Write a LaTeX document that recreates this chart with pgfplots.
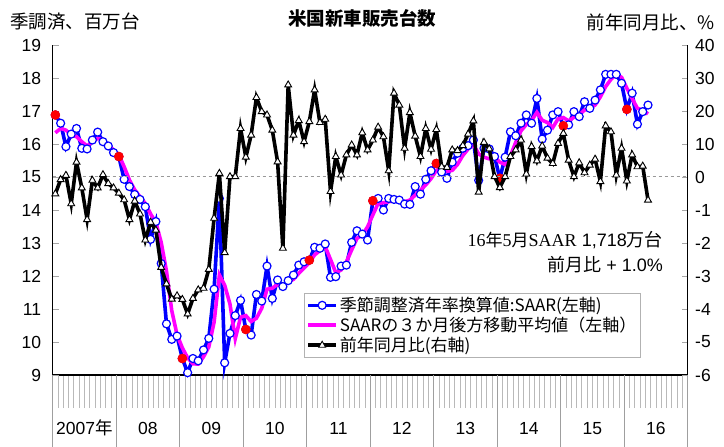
\documentclass[border=0pt]{standalone}
\usepackage{pgfplots}
\usepackage{pgfplotstable}
\pgfplotsset{compat=1.18}
\usepackage{fontspec}
\setmainfont{Liberation Sans}
\newfontfamily\jp{Noto Sans CJK JP}
\newfontfamily\serif{Liberation Serif}
\definecolor{myblue}{RGB}{0,0,255}
\definecolor{mymag}{RGB}{255,0,255}
\definecolor{myred}{RGB}{255,0,0}

\pgfplotstableread{
x saar ma yoy
0.5 16.88 16.34 -5.1
1.5 16.63 16.47 -0.8
2.5 15.92 16.42 0.5
3.5 16.30 16.27 -8.1
4.5 16.47 16.22 4.5
5.5 15.87 16.07 -3.3
6.5 15.85 15.94 -12.9
7.5 16.12 16.07 -1.0
8.5 16.36 16.17 -3.3
9.5 16.07 16.12 0.7
10.5 15.94 15.97 -2.0
11.5 15.74 15.82 -3.3
12.5 15.62 15.67 -4.9
13.5 14.93 15.31 -6.9
14.5 14.71 14.91 -12.9
15.5 14.47 14.61 -7.3
16.5 14.32 14.40 -11.2
17.5 14.10 14.20 -19.1
18.5 13.11 13.88 -13.7
19.5 13.65 13.62 -16.1
20.5 12.38 13.02 -27.4
21.5 10.55 12.15 -32.4
22.5 10.08 10.95 -37.0
23.5 10.18 10.22 -36.0
24.5 9.50 9.82 -37.1
25.5 9.07 9.52 -41.5
26.5 9.50 9.34 -36.8
27.5 9.43 9.33 -34.2
28.5 9.76 9.55 -33.7
29.5 10.11 9.85 -28.0
30.5 11.60 10.60 -12.5
31.5 14.35 12.03 1.1
32.5 9.37 11.72 -22.9
33.5 10.26 11.15 0.1
34.5 10.80 10.10 0.1
35.5 11.26 10.75 14.7
36.5 10.38 10.80 6.0
37.5 10.21 10.62 12.7
38.5 11.44 10.72 24.1
39.5 11.24 11.02 19.8
40.5 12.30 11.60 18.8
41.5 11.32 11.63 14.2
42.5 11.88 11.75 4.6
43.5 11.68 11.66 -21.6
44.5 11.86 11.82 27.9
45.5 12.03 11.90 12.7
46.5 12.33 12.08 17.1
47.5 12.43 12.24 10.7
48.5 12.48 12.40 16.8
49.5 12.87 12.64 26.4
50.5 12.84 12.77 16.5
51.5 12.97 12.89 17.5
52.5 11.96 12.50 -4.4
53.5 11.98 12.10 6.2
54.5 12.30 12.18 0.6
55.5 12.33 12.43 6.7
56.5 13.02 12.79 9.7
57.5 13.37 13.14 6.7
58.5 13.27 13.24 13.4
59.5 13.09 13.49 8.2
60.5 14.28 13.85 11.2
61.5 14.35 14.20 15.1
62.5 14.00 14.22 12.2
63.5 14.35 14.25 1.9
64.5 14.32 14.28 25.4
65.5 14.30 14.25 21.8
66.5 14.18 14.25 8.7
67.5 14.17 14.30 19.5
68.5 14.71 14.45 12.4
69.5 14.48 14.60 6.2
70.5 14.93 14.76 14.7
71.5 15.19 14.95 8.4
72.5 15.41 15.20 14.4
73.5 15.15 15.25 3.1
74.5 14.96 15.17 2.9
75.5 15.45 15.20 8.2
76.5 15.72 15.38 8.0
77.5 15.87 15.65 9.5
78.5 15.95 15.85 13.0
79.5 16.12 15.98 17.0
80.5 14.90 15.70 -4.6
81.5 15.87 15.60 10.5
82.5 15.85 15.55 8.5
83.5 15.62 15.60 0.1
84.5 14.96 15.45 -3.2
85.5 15.60 15.38 0.1
86.5 16.37 15.64 6.2
87.5 16.25 16.05 8.2
88.5 16.63 16.40 11.2
89.5 16.88 16.59 0.9
90.5 16.63 16.71 9.2
91.5 17.38 16.96 4.9
92.5 16.15 16.72 9.4
93.5 16.42 16.65 5.7
94.5 16.88 16.50 4.1
95.5 16.98 16.76 10.2
96.5 16.55 16.80 13.2
97.5 16.58 16.70 5.1
98.5 16.98 16.81 0.1
99.5 16.83 16.88 4.3
100.5 17.28 17.03 1.3
101.5 17.08 17.08 3.6
102.5 17.33 17.18 5.4
103.5 17.64 17.43 -1.4
104.5 18.11 17.74 15.5
105.5 18.11 17.96 13.7
106.5 18.11 18.11 0.6
107.5 17.84 18.02 8.7
108.5 17.05 17.69 -1.2
109.5 17.54 17.38 6.7
110.5 16.60 17.08 3.1
111.5 16.98 17.03 3.3
112.5 17.18 16.91 -7.0
}\data

\pgfplotstableread{
x saar
0.5 16.88
12.5 15.62
24.5 9.50
36.5 10.38
48.5 12.48
60.5 14.28
72.5 15.41
84.5 14.96
96.5 16.55
108.5 17.05
}\jan

\begin{document}
\begin{tikzpicture}[x=1pt,y=1pt]
\useasboundingbox (-52.7,-72) rectangle (671.3,375);
\pgfplotsset{
  base/.style={at={(0pt,0pt)}, anchor=south west, scale only axis,
    width=635pt, height=330pt, xmin=0, xmax=120, clip=false},
}
% x axis with month ticks and year lines
\begin{axis}[base, ymin=0, ymax=1, hide y axis, axis x line*=bottom,
  axis line style={black, line width=1.2pt},
  tick align=outside,
  xtick={6,18,...,114},
  xticklabels={{2007{\jp 年}},08,09,10,11,12,13,14,15,16},
  major tick length=0pt,
  xticklabel style={anchor=base, yshift=-60pt, font=\fontsize{17.5}{18}\selectfont},
  minor xtick={1,...,119},
  minor tick length=33pt,
  minor tick style={draw=gray!55, line width=0.8pt},
  extra x ticks={0,12,...,120},
  extra x tick labels={},
  extra x tick style={major tick length=72pt, tick style={draw=gray!75, line width=0.8pt}},
]
\end{axis}
% left axis
\begin{axis}[base, ymin=9, ymax=19, hide x axis, axis y line*=left,
  axis line style={black, line width=1.2pt},
  tick align=inside, major tick length=6pt,
  tick style={draw=gray!70, line width=0.8pt},
  ytick={9,10,...,19},
  yticklabels={9,10,11,12,13,14,15,16,17,18,19},
  yticklabel style={font=\fontsize{17.5}{18}\selectfont, xshift=-8pt},
]
\addplot[myblue, line width=3.6pt, mark=*, mark size=4pt,
  mark options={fill=white, draw=myblue, line width=1.2pt}] table[x=x, y=saar] {\data};
\addplot[mymag, line width=3.6pt, no marks] table[x=x, y=ma] {\data};
\addplot[only marks, mark=*, mark size=4.6pt, myred, mark options={fill=myred, draw=myred}] table[x=x, y=saar] {\jan};
\end{axis}
% right axis
\begin{axis}[base, ymin=-60, ymax=40, hide x axis, axis y line*=right,
  axis line style={black, line width=1.2pt},
  tick align=inside, major tick length=6pt,
  tick style={draw=gray!70, line width=0.8pt},
  ytick={-60,-50,...,40},
  yticklabels={-6,-5,-4,-3,-2,-1,0,10,20,30,40},
  yticklabel style={font=\fontsize{17.5}{18}\selectfont, anchor=west, xshift=4pt},
  legend style={at={(axis description cs:0.3957,0.2485)}, anchor=north west,
    draw=gray!60, line width=0.8pt, font=\jp\fontsize{17}{19}\selectfont,
    row sep=0pt, inner sep=2pt, cells={anchor=west}},
  legend image code/.code={\draw[mark repeat=2, mark phase=2, #1] plot coordinates {(0pt,0pt) (14pt,0pt) (28pt,0pt)};},
]
\addplot[gray!80, dashed, line width=1pt, forget plot] coordinates {(0,0) (120,0)};
\addlegendimage{myblue, line width=3.6pt, mark=*, mark size=4pt, mark options={fill=white, draw=myblue, line width=1.2pt}}
\addlegendentry{季節調整済年率換算値:SAAR(左軸)}
\addlegendimage{mymag, line width=3.6pt, no marks}
\addlegendentry{SAARの３か月後方移動平均値（左軸）}
\addplot[black, line width=3.6pt, mark=triangle*, mark size=4pt,
  mark options={fill=white, draw=black, line width=0.9pt}] table[x=x, y=yoy] {\data};
\addlegendentry{前年同月比(右軸)}
\end{axis}
% titles and labels
\node[font=\jp\bfseries\fontsize{18.5}{20}\selectfont] at (309.3,357) {米国新車販売台数};
\node[font=\jp\fontsize{18.5}{20}\selectfont, anchor=west, inner sep=0pt] at (-42.7,353) {季調済、百万台};
\node[font=\jp\fontsize{18.5}{20}\selectfont, anchor=east, inner sep=0pt] at (662.3,353) {前年同月比、\%};
\node[anchor=east, inner sep=0pt, font=\fontsize{18}{20}\selectfont] at (610.3,135) {{\serif 16}{\jp\fontsize{17}{20}\selectfont 年}{\serif 5}{\jp\fontsize{17}{20}\selectfont 月}{\serif SAAR} 1,718{\jp 万台}};
\node[anchor=east, inner sep=0pt, font=\fontsize{18}{20}\selectfont] at (610.3,110) {{\jp 前月比} + 1.0\%};
\end{tikzpicture}
\end{document}
